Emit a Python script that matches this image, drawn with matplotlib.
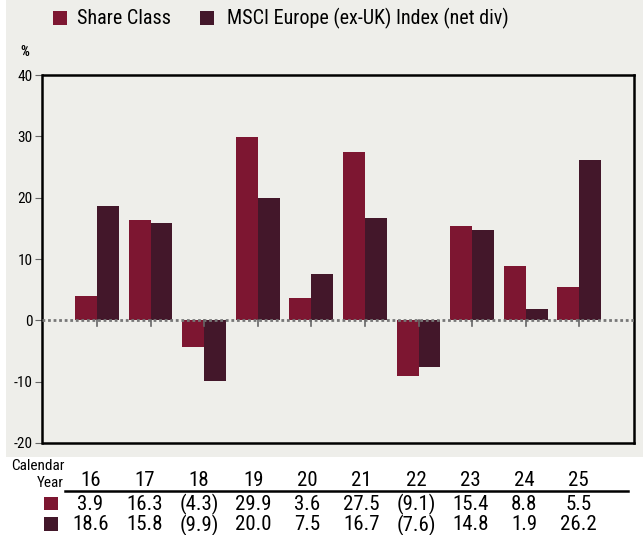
import numpy as np
import matplotlib
matplotlib.use("Agg")
import matplotlib.pyplot as plt
from matplotlib import font_manager
from matplotlib.patches import Rectangle
from matplotlib.transforms import blended_transform_factory

years = ["16", "17", "18", "19", "20", "21", "22", "23", "24", "25"]
share_class = [3.9, 16.3, -4.3, 29.9, 3.6, 27.5, -9.1, 15.4, 8.8, 5.5]
index_vals = [18.6, 15.8, -9.9, 20.0, 7.5, 16.7, -7.6, 14.8, 1.9, 26.2]
share_label = "Share Class"
index_label = "MSCI Europe (ex-UK) Index (net div)"

c_share = "#7D1631"
c_index = "#43172A"
bg = "#EEEEEA"

# narrow font if there is one, otherwise plain Liberation Sans
names = {f.name for f in font_manager.fontManager.ttflist}
font = "Liberation Sans"
for cand in ["Liberation Sans Narrow", "Arial Narrow", "Roboto Condensed"]:
    if cand in names:
        font = cand
        break
narrow = font != "Liberation Sans"
plt.rcParams["font.family"] = [font, "DejaVu Sans"]
k = 1.0 if narrow else 0.88


def fmt(v):
    return "(%.1f)" % abs(v) if v < 0 else "%.1f" % v


def px(x0, y0):
    return x0 / 643, 1 - y0 / 535


fig = plt.figure(figsize=(6.43, 5.35), dpi=100)
fig.patches.append(Rectangle(px(6, 457), 1, 457 / 535, transform=fig.transFigure,
                             facecolor=bg, edgecolor="none", zorder=-1))

ax = fig.add_axes([42.5 / 643, 1 - 443 / 535, (634 - 42.5) / 643, 368 / 535])
ax.set_facecolor(bg)

x = np.arange(len(years))
w = 0.41
ax.bar(x - w / 2, share_class, w, color=c_share, zorder=2)
ax.bar(x + w / 2, index_vals, w, color=c_index, zorder=2)
ax.axhline(0, color="#777777", lw=2, ls=(0, (1, 1)), zorder=3)

# small ticks on the zero line between each pair
for xi in x:
    ax.plot([xi, xi], [0, -0.9], color="#666666", lw=1.2, zorder=3)

ax.set_xlim(-1.015, 10.02)
ax.set_ylim(-20, 40)
ax.set_yticks([-20, -10, 0, 10, 20, 30, 40])
ax.set_yticklabels(["-20", "-10", "0", "10", "20", "30", "40"], fontsize=11 * k)
ax.tick_params(axis="y", direction="out", length=5, color="#666666", pad=2)
ax.set_xticks([])
for s in ax.spines.values():
    s.set_linewidth(1.8)
    s.set_color("black")

fig.text(*px(25, 52), "%", fontsize=10, fontweight="bold", ha="center", va="center")

# legend at the top
fig.patches.append(Rectangle(px(53, 25), 14 / 643, 14 / 535, transform=fig.transFigure,
                             facecolor=c_share, edgecolor="none"))
fig.text(*px(77, 18), share_label, fontsize=14.5 * k, va="center")
fig.patches.append(Rectangle(px(200, 25), 14 / 643, 14 / 535, transform=fig.transFigure,
                             facecolor=c_index, edgecolor="none"))
fig.text(*px(227, 18), index_label, fontsize=14.5 * k, va="center")

# table below the chart
tr = blended_transform_factory(ax.transData, fig.transFigure)
fig.text(*px(64, 466), "Calendar", fontsize=11 * k, ha="right", va="center")
fig.text(*px(64, 483), "Year", fontsize=11 * k, ha="right", va="center")
fig.add_artist(plt.Line2D([65 / 643, 628 / 643], [1 - 491 / 535, 1 - 491 / 535],
                          transform=fig.transFigure, color="black", lw=1.8))
for i in range(len(years)):
    xi = i - 0.12 + i * 0.012
    fig.text(xi, 1 - 480 / 535, years[i], fontsize=15 * k, ha="center", va="center", transform=tr)
    fig.text(xi, 1 - 504 / 535, fmt(share_class[i]), fontsize=15 * k, ha="center", va="center", transform=tr)
    fig.text(xi, 1 - 525 / 535, fmt(index_vals[i]), fontsize=15 * k, ha="center", va="center", transform=tr)
fig.patches.append(Rectangle(px(44, 510), 14 / 643, 13 / 535, transform=fig.transFigure,
                             facecolor=c_share, edgecolor="none"))
fig.patches.append(Rectangle(px(44, 531), 14 / 643, 14 / 535, transform=fig.transFigure,
                             facecolor=c_index, edgecolor="none"))

fig.savefig("out.png", dpi=100, facecolor="white")
